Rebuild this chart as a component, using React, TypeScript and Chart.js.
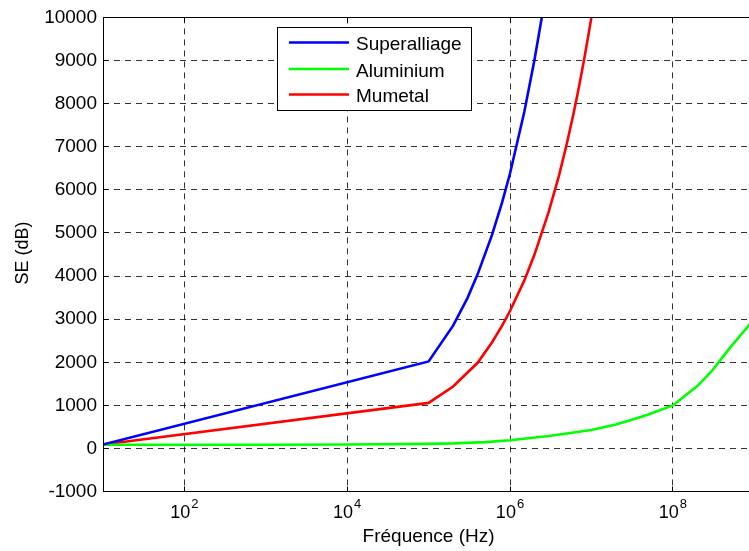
import React, { useEffect, useRef } from 'react';
import { Chart, registerables } from 'chart.js';

Chart.register(...registerables);

const FONT = '"Liberation Sans", Arial, Helvetica, sans-serif';

// ---- data ----
const seriesNames = ['Superalliage', 'Aluminium', 'Mumetal'];
const seriesColors = ['#0000ff', '#00ff00', '#ff0000'];

const freqSuper = [10, 1e5, 2e5, 3e5, 4e5, 6e5, 8e5, 1e6, 1.5e6, 2e6, 2.5e6];
const seSuper = [95, 2020, 2850, 3490, 4040, 4950, 5710, 6380, 7810, 9020, 10080];

const freqAlu = [10, 1e2, 1e3, 1e4, 1e5, 2e5, 5e5, 1e6, 3e6, 1e7, 2e7, 3.3e7, 5e7, 1e8, 2e8, 3e8, 5e8, 8.7e8, 1e9];
const seAlu = [88, 89, 90, 95, 110, 120, 150, 192, 290, 430, 560, 680, 790, 1000, 1450, 1795, 2330, 2870, 3100];

const freqMu = [10, 1e5, 2e5, 4e5, 6e5, 8e5, 1e6, 1.5e6, 2e6, 3e6, 4e6, 5e6, 6e6, 7e6, 8e6, 9e6, 1e7, 1.1e7];
const seMu = [95, 1060, 1440, 1990, 2460, 2850, 3190, 3900, 4500, 5500, 6330, 7080, 7750, 8370, 8950, 9490, 10000, 10500];

const xTickValues = [1e2, 1e4, 1e6, 1e8];
const xTickExponents = ['2', '4', '6', '8'];
const xMin = 10;
const xMax = 1e9;
const yMin = -1000;
const yMax = 10000;
const yStep = 1000;
const xTitle = 'Fréquence (Hz)';
const yTitle = 'SE (dB)';

const allFreqs = [freqSuper, freqAlu, freqMu];
const allSE = [seSuper, seAlu, seMu];

const align = (p: number) => Math.round(p - 0.5) + 0.5;

const overlayPlugin = {
  id: 'matlabOverlay',
  afterDraw(chart: any) {
    const { ctx, chartArea: a, scales } = chart;
    const xs = scales.x;
    const ys = scales.y;
    const L = align(a.left);
    const R = align(a.right);
    const T = align(a.top);
    const B = align(a.bottom);
    ctx.save();
    ctx.setLineDash([]);
    ctx.strokeStyle = '#000';
    ctx.lineWidth = 1;
    // axes box
    ctx.beginPath();
    ctx.moveTo(L, B);
    ctx.lineTo(L, T);
    ctx.lineTo(R, T);
    ctx.lineTo(R, B);
    ctx.lineTo(L, B);
    ctx.stroke();
    // inward tick marks
    ctx.beginPath();
    ys.ticks.forEach((t: any) => {
      const py = align(ys.getPixelForValue(t.value));
      ctx.moveTo(L, py);
      ctx.lineTo(L + 5, py);
      ctx.moveTo(R, py);
      ctx.lineTo(R - 5, py);
    });
    xTickValues.forEach((v) => {
      const px = align(xs.getPixelForValue(v));
      ctx.moveTo(px, B);
      ctx.lineTo(px, B - 5);
      ctx.moveTo(px, T);
      ctx.lineTo(px, T + 5);
    });
    ctx.stroke();

    // x tick labels 10^n
    ctx.fillStyle = '#000';
    ctx.textBaseline = 'alphabetic';
    ctx.textAlign = 'left';
    xTickValues.forEach((v, i) => {
      const px = xs.getPixelForValue(v);
      ctx.font = `18px ${FONT}`;
      const bw = ctx.measureText('10').width;
      ctx.font = `13px ${FONT}`;
      const ew = ctx.measureText(xTickExponents[i]).width;
      const start = px - (bw + 1 + ew) / 2;
      ctx.font = `18px ${FONT}`;
      ctx.fillText('10', start, 518);
      ctx.font = `13px ${FONT}`;
      ctx.fillText(xTickExponents[i], start + bw + 1, 508);
    });

    // x title
    ctx.font = `19px ${FONT}`;
    ctx.textAlign = 'center';
    ctx.fillText(xTitle, (xs.getPixelForValue(xMin) + xs.getPixelForValue(xMax)) / 2, 542);

    // y title
    ctx.save();
    ctx.translate(23, 253);
    ctx.rotate(-Math.PI / 2);
    ctx.font = `18px ${FONT}`;
    ctx.textAlign = 'center';
    ctx.textBaseline = 'middle';
    ctx.fillText(yTitle, 0, 0);
    ctx.restore();

    // legend
    const bx = 277.5, by = 27.5, bwid = 194, bh = 83;
    ctx.fillStyle = '#fff';
    ctx.fillRect(bx, by, bwid, bh);
    ctx.strokeStyle = '#000';
    ctx.lineWidth = 1;
    ctx.strokeRect(bx, by, bwid, bh);
    const rows = [42.5, 69, 94.5];
    seriesNames.forEach((name, i) => {
      ctx.strokeStyle = seriesColors[i];
      ctx.lineWidth = 2.5;
      ctx.beginPath();
      ctx.moveTo(289, rows[i]);
      ctx.lineTo(349, rows[i]);
      ctx.stroke();
      ctx.fillStyle = '#000';
      ctx.font = `19px ${FONT}`;
      ctx.textAlign = 'left';
      ctx.textBaseline = 'alphabetic';
      ctx.fillText(name, 356, rows[i] + 7.8);
    });
    ctx.restore();
  },
};

export default function App() {
  const ref = useRef<HTMLCanvasElement | null>(null);
  useEffect(() => {
    if (!ref.current) return;
    const datasets = seriesNames.map((name, i) => ({
      label: name,
      data: allFreqs[i].map((f, j) => ({ x: f, y: allSE[i][j] })),
      borderColor: seriesColors[i],
      backgroundColor: seriesColors[i],
      borderWidth: 2.6,
      pointRadius: 0,
      tension: 0,
      fill: false,
    }));
    const chart = new Chart(ref.current, {
      type: 'line',
      data: { datasets },
      plugins: [overlayPlugin],
      options: {
        animation: false,
        responsive: false,
        maintainAspectRatio: false,
        devicePixelRatio: 1,
        layout: { padding: { top: 13.3, right: 5.8, left: 0, bottom: 0 } },
        plugins: { legend: { display: false }, tooltip: { enabled: false } },
        scales: {
          x: {
            type: 'logarithmic',
            min: xMin,
            max: xMax,
            afterBuildTicks: (scale: any) => {
              scale.ticks = xTickValues.map((v) => ({ value: v }));
            },
            afterFit: (scale: any) => {
              scale.height = 59.3;
            },
            ticks: { display: false },
            grid: { color: 'rgba(0,0,0,0.8)', lineWidth: 1, drawTicks: false },
            border: { display: false, dash: [6, 5] },
          },
          y: {
            type: 'linear',
            min: yMin,
            max: yMax,
            afterFit: (scale: any) => {
              scale.width = 103;
            },
            ticks: {
              stepSize: yStep,
              padding: 6,
              color: '#000',
              font: { family: FONT, size: 19 },
              callback: (v: any) => String(v),
            },
            grid: { color: 'rgba(0,0,0,0.8)', lineWidth: 1, drawTicks: false },
            border: { display: false, dash: [6, 5] },
          },
        },
      },
    });
    return () => chart.destroy();
  }, []);
  return (
    <div
      style={{
        position: 'fixed',
        left: 0,
        top: 0,
        width: 749,
        height: 551,
        overflow: 'hidden',
        background: '#fff',
      }}
    >
      <canvas ref={ref} width={760} height={551} style={{ display: 'block', width: 760, height: 551 }} />
    </div>
  );
}
